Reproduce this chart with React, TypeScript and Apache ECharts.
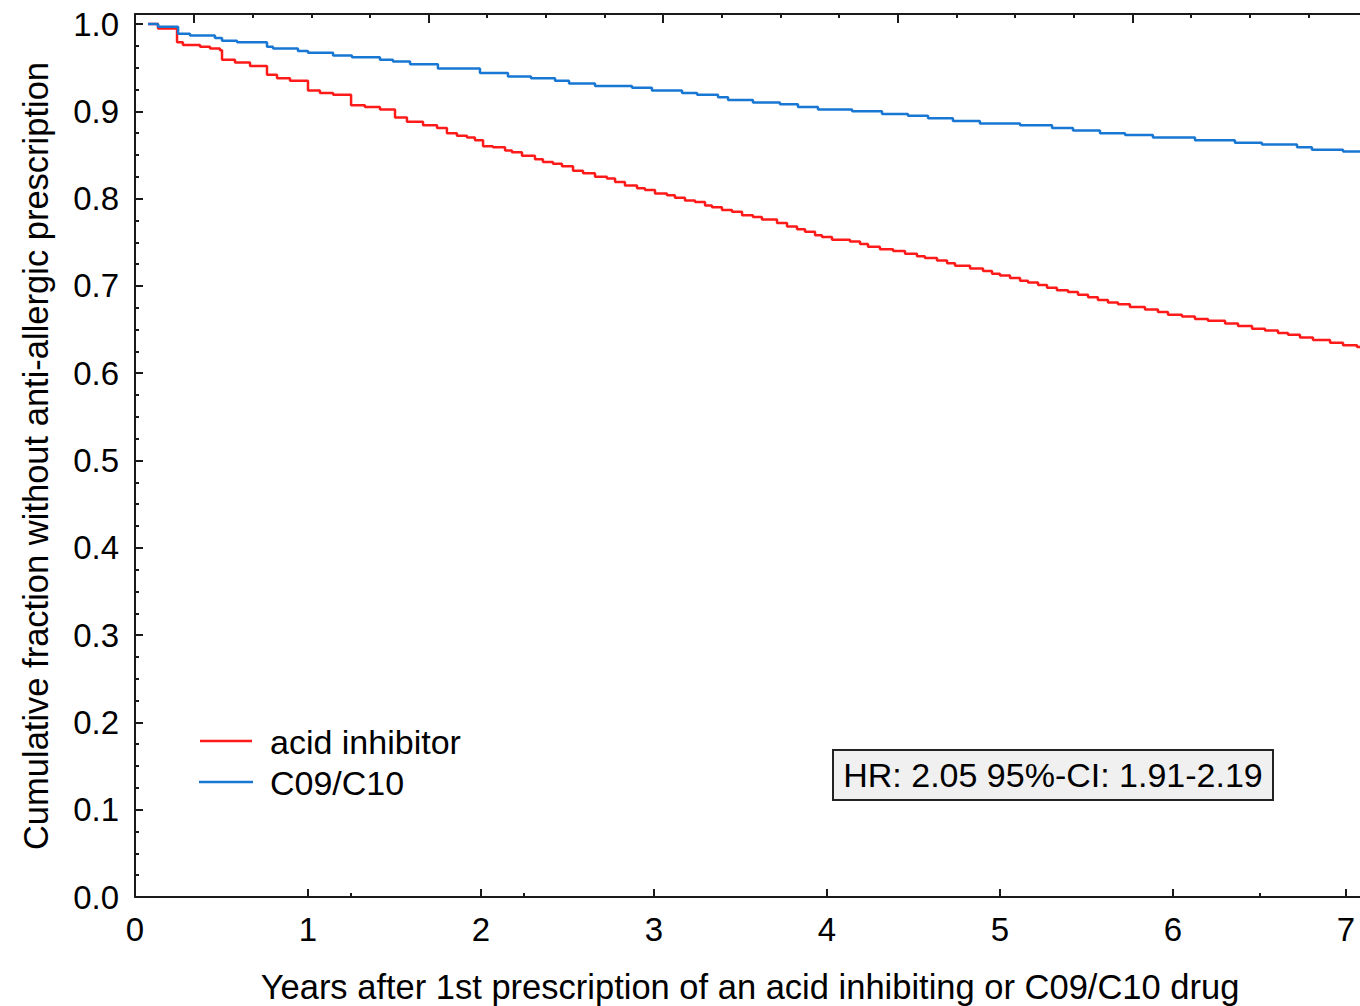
import React, { useEffect, useRef } from "react";
import * as echarts from "echarts";

// ---- data ----
const seriesNames = ["acid inhibitor", "C09/C10"];

const acidYears = [
  0.075, 0.133, 0.243, 0.277, 0.376, 0.434, 0.491, 0.503, 0.578, 0.665,
  0.763, 0.821, 0.896, 1.0, 1.069, 1.145, 1.249, 1.329, 1.416, 1.503,
  1.572, 1.665, 1.746, 1.803, 1.861, 1.919, 1.965, 2.012, 2.069, 2.139,
  2.179, 2.237, 2.312, 2.358, 2.416, 2.468, 2.532, 2.59, 2.659, 2.728,
  2.775, 2.832, 2.902, 2.948, 3.006, 3.075, 3.121, 3.179, 3.237, 3.295,
  3.335, 3.393, 3.451, 3.509, 3.572, 3.624, 3.711, 3.769, 3.827, 3.873,
  3.931, 3.971, 4.029, 4.133, 4.191, 4.237, 4.306, 4.382, 4.451, 4.52,
  4.566, 4.636, 4.694, 4.74, 4.827, 4.902, 4.954, 5.0, 5.058, 5.116,
  5.162, 5.22, 5.272, 5.329, 5.393, 5.451, 5.509, 5.566, 5.624, 5.682,
  5.751, 5.838, 5.913, 5.971, 6.052, 6.127, 6.202, 6.301, 6.376, 6.457,
  6.532, 6.607, 6.665, 6.734, 6.809, 6.908, 6.983, 7.064, 7.081,
];
const acidValues = [
  1.0, 0.995, 0.979, 0.976, 0.974, 0.972, 0.97, 0.959, 0.956, 0.952,
  0.942, 0.938, 0.935, 0.924, 0.921, 0.919, 0.907, 0.905, 0.902, 0.893,
  0.888, 0.884, 0.881, 0.875, 0.872, 0.87, 0.867, 0.86, 0.859, 0.855,
  0.853, 0.849, 0.845, 0.842, 0.84, 0.837, 0.832, 0.829, 0.825, 0.823,
  0.819, 0.815, 0.812, 0.81, 0.806, 0.804, 0.801, 0.798, 0.796, 0.792,
  0.79, 0.787, 0.785, 0.781, 0.779, 0.776, 0.772, 0.768, 0.765, 0.762,
  0.758, 0.756, 0.753, 0.751, 0.748, 0.745, 0.742, 0.74, 0.737, 0.734,
  0.732, 0.729, 0.726, 0.723, 0.72, 0.717, 0.714, 0.712, 0.709, 0.706,
  0.704, 0.701, 0.698, 0.695, 0.693, 0.69, 0.687, 0.684, 0.681, 0.679,
  0.676, 0.673, 0.67, 0.667, 0.665, 0.662, 0.66, 0.657, 0.654, 0.651,
  0.649, 0.646, 0.644, 0.641, 0.638, 0.635, 0.632, 0.63, 0.63,
];

const c09Years = [
  0.075, 0.133, 0.249, 0.318, 0.462, 0.503, 0.59, 0.763, 0.798, 0.942,
  1.0, 1.145, 1.254, 1.416, 1.491, 1.59, 1.751, 1.994, 2.156, 2.289,
  2.428, 2.509, 2.659, 2.873, 2.988, 3.162, 3.249, 3.37, 3.428, 3.572,
  3.728, 3.832, 3.948, 4.145, 4.318, 4.468, 4.584, 4.728, 4.884, 5.116,
  5.301, 5.422, 5.578, 5.723, 5.884, 6.127, 6.358, 6.514, 6.717, 6.803,
  6.983, 7.081,
];
const c09Values = [
  1.0, 0.997, 0.989, 0.987, 0.984, 0.981, 0.979, 0.974, 0.972, 0.969,
  0.967, 0.964, 0.962, 0.959, 0.957, 0.954, 0.949, 0.944, 0.94, 0.938,
  0.935, 0.932, 0.929, 0.927, 0.924, 0.921, 0.919, 0.916, 0.913, 0.91,
  0.908, 0.905, 0.902, 0.9, 0.897, 0.895, 0.892, 0.889, 0.886, 0.884,
  0.881, 0.878, 0.875, 0.873, 0.87, 0.867, 0.864, 0.862, 0.859, 0.856,
  0.854, 0.854,
];

const xTickLabels = [0, 1, 2, 3, 4, 5, 6, 7];
const xMinorTicks = [1.25, 2.25, 6.5];
const topMajorTicks = [0.341, 1.697, 3.053, 4.409, 5.765];
const topMinorTicks = [
  0.68, 1.019, 1.358, 2.036, 2.375, 2.714, 3.392, 3.731, 4.07, 4.748,
  5.087, 5.426, 6.104, 6.443, 6.782,
];
const yTickLabels = [0, 0.1, 0.2, 0.3, 0.4, 0.5, 0.6, 0.7, 0.8, 0.9, 1.0];
const yMinorTicks = [
  0.025, 0.05, 0.075, 0.125, 0.15, 0.175, 0.225, 0.25, 0.275, 0.325, 0.35,
  0.375, 0.425, 0.45, 0.475, 0.525, 0.55, 0.575, 0.625, 0.65, 0.675, 0.725,
  0.75, 0.775, 0.825, 0.85, 0.875, 0.925, 0.95, 0.975,
];
const X_MIN = 0;
const X_MAX = 7.081;
const Y_MIN = 0;
const Y_MAX = 1.0115;

const xTitle = "Years after 1st prescription of an acid inhibiting or C09/C10 drug";
const yTitle = "Cumulative fraction without anti-allergic prescription";
const hrText = "HR: 2.05 95%-CI: 1.91-2.19";

const RED = "#ff1a1a";
const BLUE = "#1877d2";
const AXIS = "#1a1a1a";
const FONT = "'Liberation Sans', Arial, sans-serif";

function zip(xs: number[], ys: number[]) {
  const n = Math.min(xs.length, ys.length);
  const out: number[][] = [];
  for (let i = 0; i < n; i++) out.push([xs[i], ys[i]]);
  return out;
}

export default function App() {
  const ref = useRef<HTMLDivElement>(null);

  useEffect(() => {
    if (!ref.current) return;
    const chart = echarts.init(ref.current, null, { renderer: "svg" });

    const axisLine = { show: true, lineStyle: { color: AXIS, width: 2 } };
    const tick = (len: number, values: number[]) => ({
      show: true,
      inside: true,
      length: len,
      customValues: values,
      lineStyle: { color: AXIS, width: 2 },
    });
    const xBase = {
      type: "value",
      min: X_MIN,
      max: X_MAX,
      splitLine: { show: false },
      gridIndex: 0,
    };
    const yBase = {
      type: "value",
      min: Y_MIN,
      max: Y_MAX,
      splitLine: { show: false },
      gridIndex: 0,
    };

    chart.setOption({
      animation: false,
      backgroundColor: "#ffffff",
      grid: { left: 135, right: 0, top: 14, bottom: 109 },
      xAxis: [
        {
          ...xBase,
          position: "bottom",
          axisLine,
          axisTick: tick(8, xTickLabels),
          axisLabel: {
            customValues: xTickLabels,
            fontSize: 33,
            fontFamily: FONT,
            color: "#000",
            margin: 16,
            formatter: (v: number) => String(v),
          },
        },
        {
          ...xBase,
          position: "bottom",
          axisLine: { show: false },
          axisTick: tick(4, xMinorTicks),
          axisLabel: { show: false },
        },
        {
          ...xBase,
          position: "top",
          axisLine,
          axisTick: tick(9, topMajorTicks),
          axisLabel: { show: false },
        },
        {
          ...xBase,
          position: "top",
          axisLine: { show: false },
          axisTick: tick(4, topMinorTicks),
          axisLabel: { show: false },
        },
      ],
      yAxis: [
        {
          ...yBase,
          position: "left",
          axisLine,
          axisTick: tick(8, yTickLabels),
          axisLabel: {
            customValues: yTickLabels,
            fontSize: 33,
            fontFamily: FONT,
            color: "#000",
            margin: 16,
            formatter: (v: number) => v.toFixed(1),
          },
        },
        {
          ...yBase,
          position: "left",
          axisLine: { show: false },
          axisTick: tick(4, yMinorTicks),
          axisLabel: { show: false },
        },
      ],
      series: [
        {
          name: seriesNames[0],
          type: "line",
          step: "end",
          xAxisIndex: 0,
          yAxisIndex: 0,
          showSymbol: false,
          symbol: "none",
          lineStyle: { color: RED, width: 2.5 },
          data: zip(acidYears, acidValues),
        },
        {
          name: seriesNames[1],
          type: "line",
          step: "end",
          xAxisIndex: 0,
          yAxisIndex: 0,
          showSymbol: false,
          symbol: "none",
          lineStyle: { color: BLUE, width: 2.5 },
          data: zip(c09Years, c09Values),
        },
      ],
      graphic: [
        // y axis title
        {
          type: "text",
          x: 36,
          y: 456,
          rotation: Math.PI / 2,
          style: {
            text: yTitle,
            fontSize: 34.5,
            fontFamily: FONT,
            fill: "#000",
            align: "center",
            verticalAlign: "middle",
          },
        },
        // x axis title
        {
          type: "text",
          x: 750,
          y: 987,
          style: {
            text: xTitle,
            fontSize: 34.5,
            fontFamily: FONT,
            fill: "#000",
            align: "center",
            verticalAlign: "middle",
          },
        },
        // legend
        {
          type: "line",
          shape: { x1: 200, y1: 741, x2: 252, y2: 741 },
          style: { stroke: RED, lineWidth: 2.5 },
        },
        {
          type: "text",
          x: 270,
          y: 742,
          style: {
            text: seriesNames[0],
            fontSize: 34,
            fontFamily: FONT,
            fill: "#000",
            align: "left",
            verticalAlign: "middle",
          },
        },
        {
          type: "line",
          shape: { x1: 199, y1: 782, x2: 253, y2: 782 },
          style: { stroke: BLUE, lineWidth: 2.5 },
        },
        {
          type: "text",
          x: 270,
          y: 783,
          style: {
            text: seriesNames[1],
            fontSize: 34,
            fontFamily: FONT,
            fill: "#000",
            align: "left",
            verticalAlign: "middle",
          },
        },
        // HR box
        {
          type: "rect",
          shape: { x: 833, y: 750, width: 440, height: 50 },
          style: { fill: "#f0f0f0", stroke: "#222", lineWidth: 2 },
        },
        {
          type: "text",
          x: 1053,
          y: 775,
          style: {
            text: hrText,
            fontSize: 34,
            fontFamily: FONT,
            fill: "#000",
            align: "center",
            verticalAlign: "middle",
          },
        },
      ],
    });

    return () => {
      chart.dispose();
    };
  }, []);

  return (
    <div
      ref={ref}
      style={{ position: "absolute", left: 0, top: 0, width: 1360, height: 1006 }}
    />
  );
}
